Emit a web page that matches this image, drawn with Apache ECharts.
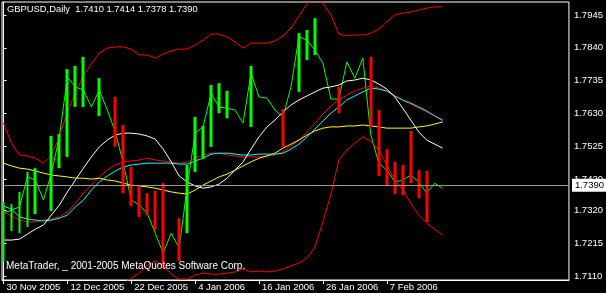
<!DOCTYPE html>
<html><head><meta charset="utf-8">
<script src="https://cdn.jsdelivr.net/npm/echarts@6/dist/echarts.min.js"></script>
<style>html,body{margin:0;padding:0;background:#000;}#c{width:606px;height:293px;}</style>
</head><body><div id="c"></div>
<script>
// ---- data ----
const dates = ['30 Nov 2005','1 Dec 2005','2 Dec 2005','5 Dec 2005','6 Dec 2005','7 Dec 2005','8 Dec 2005','9 Dec 2005',
 '12 Dec 2005','13 Dec 2005','14 Dec 2005','15 Dec 2005','16 Dec 2005','19 Dec 2005','20 Dec 2005','21 Dec 2005',
 '22 Dec 2005','23 Dec 2005','26 Dec 2005','27 Dec 2005','28 Dec 2005','29 Dec 2005','30 Dec 2005','3 Jan 2006',
 '4 Jan 2006','5 Jan 2006','6 Jan 2006','9 Jan 2006','10 Jan 2006','11 Jan 2006','12 Jan 2006','13 Jan 2006',
 '16 Jan 2006','17 Jan 2006','18 Jan 2006','19 Jan 2006','20 Jan 2006','23 Jan 2006','24 Jan 2006','25 Jan 2006',
 '26 Jan 2006','27 Jan 2006','30 Jan 2006','31 Jan 2006','1 Feb 2006','2 Feb 2006','3 Feb 2006','6 Feb 2006',
 '7 Feb 2006','8 Feb 2006','9 Feb 2006','10 Feb 2006','13 Feb 2006','14 Feb 2006','15 Feb 2006','16 Feb 2006'];
const dateTicks = [0, 8, 16, 24, 32, 40, 48];
const priceTicks = [1.7110, 1.7215, 1.7320, 1.7420, 1.7525, 1.7630, 1.7735, 1.7840, 1.7945];
const headerText = 'GBPUSD,Daily  1.7410 1.7414 1.7378 1.7390';
const footerText = 'MetaTrader, _ 2001-2005 MetaQuotes Software Corp.';

const barOpen = [1.7155,1.7254,1.7247,1.7267,1.7308,null,1.7318,1.7455,1.7491,1.7651,1.7651,null,1.7622,null,
 1.7683,1.7593,1.7459,1.7401,1.7375,1.7382,1.7407,null,1.7295,1.7247,1.7443,1.7484,1.7523,1.7631,1.7615,null,null,
 1.7587,null,null,null,1.7644,null,1.7699,1.7801,1.7817,null,null,1.7715,null,null,null,1.7811,1.7641,1.7516,
 1.7475,1.7465,1.7574,1.7449,1.7446,null,null];
const barClose = [1.7347,1.7340,1.7379,1.7443,1.7455,null,1.7558,1.7564,1.7772,1.7782,1.7811,null,1.7743,null,
 1.7523,1.7375,1.7334,1.7299,1.7305,1.7257,1.7135,null,1.7158,1.7465,1.7619,1.7590,1.7721,1.7727,1.7702,null,null,
 1.7782,null,null,null,1.7523,null,1.7887,1.7897,1.7935,null,null,1.7631,null,null,null,1.7587,1.7430,1.7398,
 1.7372,1.7369,1.7407,1.7359,1.7283,null,null];
const closePrice = [1.7311,1.7321,1.7331,1.7427,1.7417,1.7353,1.7439,1.7555,1.7747,1.7715,1.7705,1.7651,1.7705,1.7641,
 1.7571,1.7471,1.7353,1.7337,1.7311,1.7247,1.7183,1.7247,1.7199,1.7395,1.7567,1.7587,1.7695,1.7651,1.7647,1.7641,
 1.7599,1.7759,1.7683,1.7679,1.7641,1.7619,1.7715,1.7875,1.7865,1.7833,1.7791,1.7676,1.7676,1.7795,1.7743,1.7807,
 1.7561,1.7471,1.7449,1.7411,1.7417,1.7433,1.7411,1.7375,1.7407,1.7390];
const maWhite = [1.7225,1.7225,1.7228,1.7244,1.7260,1.7273,1.7305,1.7337,1.7379,1.7417,1.7455,1.7491,1.7523,1.7545,
 1.7561,1.7567,1.7567,1.7564,1.7558,1.7548,1.7516,1.7475,1.7430,1.7411,1.7398,1.7391,1.7395,1.7404,1.7423,1.7449,
 1.7475,1.7516,1.7555,1.7587,1.7609,1.7635,1.7657,1.7673,1.7686,1.7699,1.7711,1.7715,1.7721,1.7734,1.7737,1.7743,
 1.7737,1.7724,1.7708,1.7683,1.7647,1.7609,1.7571,1.7545,1.7532,1.7519];
const maAqua = [1.7334,1.7324,1.7299,1.7292,1.7289,1.7286,1.7289,1.7295,1.7305,1.7331,1.7353,1.7385,1.7411,1.7430,
 1.7446,1.7459,1.7465,1.7468,1.7471,1.7471,1.7471,1.7471,1.7468,1.7468,1.7478,1.7487,1.7500,1.7503,1.7503,1.7500,
 1.7497,1.7497,1.7500,1.7500,1.7500,1.7503,1.7516,1.7532,1.7555,1.7580,1.7606,1.7631,1.7651,1.7673,1.7686,1.7699,
 1.7711,1.7708,1.7702,1.7686,1.7673,1.7663,1.7651,1.7638,1.7622,1.7609];
const bandMiddle = [1.7315,1.7302,1.7289,1.7283,1.7283,1.7289,1.7292,1.7299,1.7315,1.7343,1.7375,1.7401,1.7427,1.7449,
 1.7465,1.7475,1.7478,1.7481,1.7487,1.7481,1.7478,1.7475,1.7471,1.7475,1.7487,1.7497,1.7503,1.7503,1.7497,1.7494,
 1.7491,1.7491,1.7491,1.7494,1.7497,1.7507,1.7526,1.7545,1.7571,1.7599,1.7628,1.7654,1.7673,1.7689,1.7702,1.7711,
 1.7718,1.7711,1.7702,1.7686,1.7673,1.7660,1.7647,1.7635,1.7622,1.7606];
const maYellow = [1.7471,1.7462,1.7455,1.7452,1.7446,1.7439,1.7433,1.7430,1.7427,1.7423,1.7423,1.7420,1.7423,1.7417,
 1.7414,1.7407,1.7401,1.7398,1.7395,1.7391,1.7385,1.7379,1.7375,1.7372,1.7385,1.7401,1.7414,1.7427,1.7436,1.7449,
 1.7462,1.7475,1.7487,1.7494,1.7503,1.7519,1.7532,1.7545,1.7561,1.7574,1.7583,1.7587,1.7587,1.7590,1.7590,1.7593,
 1.7590,1.7587,1.7583,1.7583,1.7583,1.7583,1.7587,1.7590,1.7596,1.7603];
const bandUpper = [1.7599,1.7535,1.7497,1.7494,1.7487,1.7471,1.7497,1.7555,1.7635,1.7695,1.7750,1.7788,1.7823,1.7839,
 1.7843,1.7843,1.7836,1.7817,1.7817,1.7807,1.7820,1.7830,1.7836,1.7836,1.7849,1.7865,1.7884,1.7884,1.7875,1.7859,
 1.7839,1.7855,1.7855,1.7855,1.7862,1.7878,1.7903,1.7942,1.7980,1.8003,1.7983,1.7945,1.7884,1.7878,1.7881,1.7881,
 1.7887,1.7900,1.7923,1.7945,1.7951,1.7955,1.7961,1.7967,1.7971,1.7971];
const bandLower = [1.7030,1.7059,1.7071,1.7071,1.7075,1.7081,1.7078,1.7043,1.6995,1.6991,1.7001,1.7014,1.7030,1.7059,
 1.7071,1.7087,1.7103,1.7119,1.7145,1.7158,1.7142,1.7116,1.7100,1.7100,1.7113,1.7119,1.7116,1.7116,1.7119,1.7123,
 1.7132,1.7123,1.7126,1.7123,1.7126,1.7132,1.7142,1.7151,1.7167,1.7203,1.7283,1.7372,1.7481,1.7513,1.7535,1.7555,
 1.7542,1.7513,1.7465,1.7417,1.7385,1.7343,1.7305,1.7279,1.7260,1.7241];

// ---- build ----
const FONT = 'Liberation Sans';
const lastPrice = closePrice[closePrice.length - 1];
const pairs = arr => arr.map((v, i) => [i, v]);
const candles = [];
barOpen.forEach((o, i) => {
  const c = barClose[i];
  if (o == null || c == null) return;
  candles.push([i, o, c, Math.min(o, c), Math.max(o, c)]);
});
function lineSeries(name, arr, color, z, extra) {
  return Object.assign({
    name, type: 'line', data: pairs(arr), symbol: 'none', showSymbol: false,
    lineStyle: { color, width: 1 }, itemStyle: { color }, z, clip: true, silent: true
  }, extra || {});
}
const chart = echarts.init(document.getElementById('c'), null, { renderer: 'canvas' });
chart.setOption({
  backgroundColor: '#000',
  animation: false,
  grid: { left: 2, top: 2, right: 36, bottom: 13, show: true, borderColor: '#fff', borderWidth: 1, containLabel: false },
  xAxis: {
    type: 'value', min: -0.1875, max: 70.8125,
    axisLine: { show: true, lineStyle: { color: '#fff' } },
    splitLine: { show: false },
    axisTick: { show: true, customValues: dateTicks, length: 4, lineStyle: { color: '#fff' } },
    axisLabel: { customValues: dateTicks, formatter: v => dates[Math.round(v)] || '', color: '#fff',
      fontFamily: FONT, fontSize: 9.5, align: 'left', margin: 2, padding: [0, 0, 0, 3] }
  },
  yAxis: {
    type: 'value', position: 'right', min: 1.70972, max: 1.79866, scale: true,
    axisLine: { show: true, lineStyle: { color: '#fff' } },
    splitLine: { show: false },
    axisTick: { show: true, customValues: priceTicks, length: 3, lineStyle: { color: '#fff' } },
    axisLabel: { customValues: priceTicks, formatter: v => v.toFixed(4), color: '#fff',
      fontFamily: FONT, fontSize: 9.5, margin: 5 }
  },
  series: [
    lineSeries('close', closePrice, '#00ff00', 2, {
      markLine: {
        silent: true, symbol: 'none', animation: false,
        lineStyle: { color: '#999999', type: 'solid', width: 1 },
        label: { show: true, position: 'end', formatter: () => lastPrice.toFixed(4), color: '#000',
          backgroundColor: '#fff', padding: [2, 3, 1, 3], fontFamily: FONT, fontSize: 9.5, distance: 3 },
        data: [{ yAxis: lastPrice }]
      }
    }),
    lineSeries('upper', bandUpper, '#ff0000', 3),
    lineSeries('lower', bandLower, '#ff0000', 3),
    lineSeries('middle', bandMiddle, '#ff0000', 3),
    lineSeries('yellow', maYellow, '#ffff00', 3),
    lineSeries('aqua', maAqua, '#00ffff', 3),
    lineSeries('white', maWhite, '#ffffff', 3),
    {
      type: 'candlestick', data: candles, encode: { x: 0, y: [1, 2, 3, 4] }, barWidth: 3.4, z: 4, silent: true,
      itemStyle: { color: '#00ff00', color0: '#ff0000', borderColor: '#00ff00', borderColor0: '#ff0000', borderWidth: 0 }
    }
  ],
  graphic: [
    { type: 'text', left: 7, top: 5, z: 10, silent: true,
      style: { text: headerText, fill: '#fff', font: '9.4px "' + FONT + '"' } },
    { type: 'text', left: 6, top: 261, z: 10, silent: true,
      style: { text: footerText, fill: '#fff', font: '10px "' + FONT + '"' } }
  ]
});
</script></body></html>
